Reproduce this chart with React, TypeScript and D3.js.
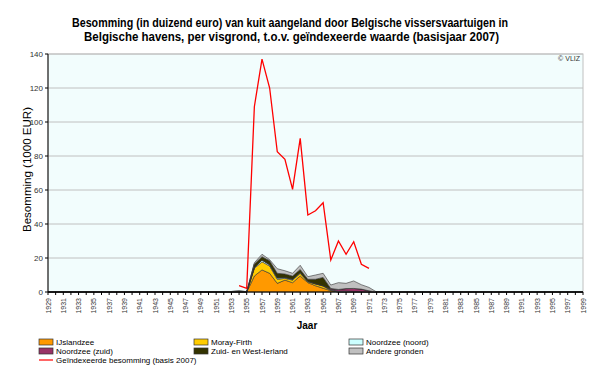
import React from "react";
import * as d3 from "d3";

const title1 = "Besomming (in duizend euro) van kuit aangeland door Belgische vissersvaartuigen in";
const title2 = "Belgische havens, per visgrond, t.o.v. geïndexeerde waarde (basisjaar 2007)";

const firstYear = 1929;
const lastYear = 1999;

// series data, years 1953..1972 (other years zero)
const dataStart = 1953;
const ijslandzee = [0, 0, 0, 9.4, 13, 11, 5.1, 7, 5.5, 9.4, 5.5, 3.7, 2.2, 0.8, 0, 0, 0, 0, 0, 0];
const morayFirth = [0, 0, 0, 4.5, 4.8, 4.3, 2.4, 1, 1.5, 1.6, 0.5, 1, 1.3, 0.2, 0, 0, 0, 0, 0, 0];
const noordzeeNoord = [0, 0, 0, 0.5, 1, 0.8, 0.8, 0.5, 0.5, 0.5, 0.3, 0.2, 0.2, 0.3, 0.5, 0.5, 0.3, 0.2, 0.1, 0];
const noordzeeZuid = [0, 0, 0, 0, 0, 0, 0, 0, 0, 0, 0, 0, 0, 0.5, 1, 1.5, 1.8, 1.5, 0.6, 0];
const zuidWestIerland = [0.3, 0.6, 0.2, 2.1, 2, 2.3, 2.7, 2.1, 1.9, 1.8, 1.2, 2.6, 4.9, 0.3, 0, 0, 0, 0, 0, 0];
const andereGronden = [0, 0, 0, 0.7, 1.4, 0.6, 2.7, 1.9, 1.6, 2.4, 1.5, 2.5, 2.4, 2.0, 4, 3.1, 4.4, 2.6, 2.0, 0];

// indexed revenue, years 1954..1971
const indexStart = 1954;
const geindexeerd = [3.7, 2.2, 109, 137, 120, 82.5, 78, 60.4, 90.4, 45.3, 47.8, 52.5, 18.8, 30, 22.2, 29.6, 16.3, 13.9];

const yTicks = [0, 20, 40, 60, 80, 100, 120, 140];

const seriesNames = [
  "IJslandzee",
  "Moray-Firth",
  "Noordzee (noord)",
  "Noordzee (zuid)",
  "Zuid- en West-Ierland",
  "Andere gronden",
];
const seriesArrays = [ijslandzee, morayFirth, noordzeeNoord, noordzeeZuid, zuidWestIerland, andereGronden];
const seriesColors = ["#FF9900", "#FFCC00", "#CCFFFF", "#993366", "#333300", "#C0C0C0"];
const lineName = "Geïndexeerde besomming (basis 2007)";

export default function App() {
  const W = 600, H = 368;
  const left = 48, right = 583, top = 54, bottom = 292;
  const years = d3.range(firstYear, lastYear + 1);
  const x = d3.scaleLinear().domain([firstYear, lastYear]).range([left, right]);
  const y = d3.scaleLinear().domain([0, 140]).range([bottom, top]);

  const rows = years.map((yr) => {
    const r: any = { year: yr };
    seriesNames.forEach((n, i) => {
      const idx = yr - dataStart;
      r[n] = idx >= 0 && idx < seriesArrays[i].length ? seriesArrays[i][idx] : 0;
    });
    return r;
  });
  const stacked = d3.stack().keys(seriesNames)(rows as any);
  const area = d3
    .area<any>()
    .x((d) => x(d.data.year))
    .y0((d) => y(d[0]))
    .y1((d) => y(d[1]));

  const lineData = geindexeerd.map((v, i) => ({ year: indexStart + i, v }));
  const line = d3
    .line<any>()
    .x((d) => x(d.year))
    .y((d) => y(d.v));

  const font = "'Liberation Sans', Arial, sans-serif";

  const legendItems = [
    { name: seriesNames[0], color: seriesColors[0], col: 0, row: 0 },
    { name: seriesNames[1], color: seriesColors[1], col: 1, row: 0 },
    { name: seriesNames[2], color: seriesColors[2], col: 2, row: 0 },
    { name: seriesNames[3], color: seriesColors[3], col: 0, row: 1 },
    { name: seriesNames[4], color: seriesColors[4], col: 1, row: 1 },
    { name: seriesNames[5], color: seriesColors[5], col: 2, row: 1 },
  ];
  const colX = [39, 194, 349];
  const rowY = [342, 351, 360];

  return (
    <svg width={W} height={H} style={{ position: "absolute", left: 0, top: 0, background: "#fff" }} fontFamily={font}>
      <text x={290} y={27} textAnchor="middle" fontSize={12} fontWeight="bold" textLength={436} lengthAdjust="spacingAndGlyphs">{title1}</text>
      <text x={291.5} y={41} textAnchor="middle" fontSize={12} fontWeight="bold" textLength={415} lengthAdjust="spacingAndGlyphs">{title2}</text>

      <rect x={left} y={top} width={right - left} height={bottom - top} fill="#F2FDFD" stroke="#C0C0C0" strokeWidth={1} />
      {yTicks.filter((t) => t > 0).map((t) => (
        <line key={t} x1={left} x2={right} y1={y(t)} y2={y(t)} stroke="#C0C0C0" strokeWidth={1} />
      ))}

      {stacked.map((s, i) => (
        <path key={i} d={area(s as any) || ""} fill={seriesColors[i]} stroke="#333" strokeWidth={0.6} strokeLinejoin="round" />
      ))}

      <path d={line(lineData) || ""} fill="none" stroke="#FF0000" strokeWidth={1.3} />

      {/* axes */}
      <line x1={left} x2={left} y1={top} y2={bottom} stroke="#000" />
      <line x1={left} x2={right} y1={bottom} y2={bottom} stroke="#000" />
      {yTicks.map((t) => (
        <g key={t}>
          <line x1={left - 3} x2={left} y1={y(t)} y2={y(t)} stroke="#000" />
          <text x={left - 5} y={y(t) + 3} textAnchor="end" fontSize={8} fill="#333">{t}</text>
        </g>
      ))}
      {years.map((yr) => (
        <line key={yr} x1={x(yr)} x2={x(yr)} y1={bottom} y2={bottom + 3} stroke="#000" />
      ))}
      {years.filter((yr) => (yr - firstYear) % 2 === 0).map((yr) => (
        <text key={yr} transform={`translate(${x(yr) + 2.5},${298}) rotate(-90)`} textAnchor="end" fontSize={7} fill="#333">{yr}</text>
      ))}

      <text transform={`translate(31,${169.5}) rotate(-90)`} textAnchor="middle" fontSize={11} textLength={125} lengthAdjust="spacingAndGlyphs">Besomming (1000 EUR)</text>
      <text x={307} y={329} textAnchor="middle" fontSize={10} fontWeight="bold">Jaar</text>
      <text x={580} y={61} textAnchor="end" fontSize={7} fill="#333">© VLIZ</text>

      {legendItems.map((it) => (
        <g key={it.name}>
          <rect x={colX[it.col]} y={rowY[it.row] - 3} width={14} height={6} fill={it.color} stroke="#333" strokeWidth={0.7} />
          <text x={colX[it.col] + 17} y={rowY[it.row] + 3} fontSize={8}>{it.name}</text>
        </g>
      ))}
      <line x1={colX[0]} x2={colX[0] + 14} y1={rowY[2]} y2={rowY[2]} stroke="#FF0000" strokeWidth={1.2} />
      <text x={colX[0] + 17} y={rowY[2] + 3} fontSize={8}>{lineName}</text>
    </svg>
  );
}
